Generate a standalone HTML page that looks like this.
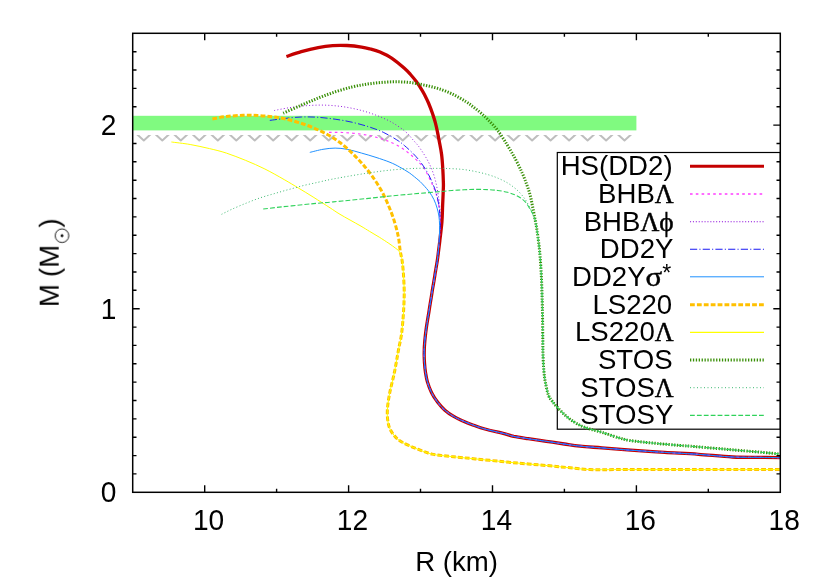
<!DOCTYPE html>
<html><head><meta charset="utf-8"><title>M-R</title>
<style>html,body{margin:0;padding:0;background:#fff;}svg{display:block;}text{font-family:"Liberation Sans",sans-serif;fill:#000;}.sy{font-family:"Liberation Serif",serif;}</style></head><body>
<svg width="830" height="581" viewBox="0 0 830 581">
<rect x="0" y="0" width="830" height="581" fill="#fff"/>
<defs><clipPath id="cp"><rect x="132.7" y="33.3" width="647.6" height="459.0"/></clipPath></defs>
<rect x="132.7" y="115.8" width="503.7" height="14.6" fill="#80fa80"/>
<defs><clipPath id="cv"><rect x="133.5" y="134.9" width="502.9" height="8"/></clipPath></defs>
<path d="M117.5 133.4L125.3 140.4L133.1 133.4M136.0 133.4L143.8 140.4L151.6 133.4M154.5 133.4L162.3 140.4L170.1 133.4M173.0 133.4L180.8 140.4L188.6 133.4M191.5 133.4L199.3 140.4L207.1 133.4M210.0 133.4L217.8 140.4L225.6 133.4M228.5 133.4L236.3 140.4L244.1 133.4M246.9 133.4L254.7 140.4L262.5 133.4M265.4 133.4L273.2 140.4L281.0 133.4M283.9 133.4L291.7 140.4L299.5 133.4M302.4 133.4L310.2 140.4L318.0 133.4M320.9 133.4L328.7 140.4L336.5 133.4M339.4 133.4L347.2 140.4L355.0 133.4M357.9 133.4L365.7 140.4L373.5 133.4M376.4 133.4L384.2 140.4L392.0 133.4M394.9 133.4L402.7 140.4L410.5 133.4M413.4 133.4L421.2 140.4L429.0 133.4M431.8 133.4L439.6 140.4L447.4 133.4M450.3 133.4L458.1 140.4L465.9 133.4M468.8 133.4L476.6 140.4L484.4 133.4M487.3 133.4L495.1 140.4L502.9 133.4M505.8 133.4L513.6 140.4L521.4 133.4M524.3 133.4L532.1 140.4L539.9 133.4M542.8 133.4L550.6 140.4L558.4 133.4M561.3 133.4L569.1 140.4L576.9 133.4M579.8 133.4L587.6 140.4L595.4 133.4M598.3 133.4L606.1 140.4L613.9 133.4M616.7 133.4L624.5 140.4L632.3 133.4" fill="none" stroke="#bebebe" stroke-width="2.0" stroke-linejoin="round" clip-path="url(#cv)"/>
<rect x="557.3" y="152.5" width="223.0" height="276.7" fill="none" stroke="#000" stroke-width="1.2"/>
<g clip-path="url(#cp)" fill="none" stroke-linejoin="round">
<path d="M286.4 56.5C288.9 55.7 296.0 53.2 301.3 51.7C306.6 50.2 313.0 48.6 318.2 47.6C323.4 46.6 327.9 46.0 332.7 45.6C337.5 45.2 342.3 45.2 347.1 45.5C351.9 45.8 357.7 46.5 361.6 47.1C365.5 47.7 367.3 48.2 370.4 49.0C373.5 49.8 376.4 50.5 380.0 52.1C383.6 53.7 388.0 55.7 392.0 58.4C396.0 61.1 401.0 65.4 404.1 68.1C407.2 70.8 408.5 72.3 410.5 74.5C412.5 76.7 414.2 78.8 416.1 81.3C418.0 83.8 420.4 87.5 421.8 89.8C423.2 92.1 423.6 92.8 424.7 95.0C425.8 97.2 427.2 99.9 428.5 103.0C429.8 106.1 431.4 110.3 432.5 113.6C433.6 116.9 434.6 119.7 435.4 122.8C436.2 125.9 436.9 129.0 437.5 132.1C438.1 135.2 438.6 137.8 439.3 141.5C440.0 145.2 441.0 149.9 441.6 154.5C442.2 159.1 442.5 164.1 442.8 168.9C443.1 173.7 443.3 179.6 443.4 183.4C443.5 187.2 443.3 188.2 443.2 192.0C443.1 195.8 442.8 201.0 442.6 206.0C442.4 211.0 442.4 216.2 441.9 222.0C441.4 227.8 440.4 235.8 439.8 241.0C439.2 246.2 438.7 249.6 438.3 253.0C437.9 256.4 437.7 258.1 437.2 261.2C436.7 264.2 436.1 267.7 435.5 271.3C434.9 274.9 434.1 280.2 433.6 282.9C433.2 285.6 433.3 284.6 432.8 287.5C432.3 290.4 431.5 295.9 430.8 300.0C430.1 304.1 429.6 307.3 428.9 312.0C428.1 316.7 427.0 323.2 426.3 328.0C425.6 332.8 425.2 336.8 424.8 341.0C424.4 345.2 424.2 349.3 424.2 353.0C424.1 356.7 424.3 359.8 424.5 363.0C424.7 366.2 425.0 369.4 425.5 372.5C426.0 375.6 426.4 378.5 427.4 381.9C428.4 385.3 429.9 389.3 431.6 392.7C433.3 396.1 435.5 399.4 437.7 402.3C439.9 405.2 442.3 407.9 444.9 410.2C447.5 412.5 450.5 414.5 453.3 416.2C456.1 417.9 458.3 418.9 461.7 420.4C465.1 421.9 469.6 423.8 473.5 425.2C477.4 426.6 479.8 427.6 484.9 429.0C490.0 430.4 499.4 432.4 504.2 433.6C509.0 434.8 509.7 435.5 513.7 436.4C517.7 437.2 522.8 437.9 528.2 438.7C533.6 439.5 540.3 440.4 546.3 441.3C552.3 442.2 558.7 443.2 564.3 444.0C569.9 444.8 573.7 445.5 580.0 446.1C586.3 446.8 593.4 447.2 601.9 447.9C610.4 448.6 620.3 449.4 630.8 450.2C641.2 450.9 653.4 451.7 664.6 452.4C675.9 453.1 687.0 453.5 698.3 454.3C709.6 455.1 722.0 456.5 732.5 457.0C743.0 457.5 753.0 457.3 761.2 457.4C769.5 457.5 778.5 457.6 782.0 457.7" stroke="#c40000" stroke-width="3.3"/>
<path d="M329.0 132.3C331.2 132.3 337.7 132.3 342.3 132.5C346.9 132.7 351.9 133.0 356.7 133.6C361.5 134.2 366.8 135.0 371.2 136.0C375.6 137.0 380.2 138.4 383.3 139.4C386.4 140.4 387.3 140.7 390.0 141.9C392.7 143.1 396.7 145.0 399.6 146.7C402.5 148.4 404.9 150.2 407.3 152.0C409.7 153.8 412.0 155.9 414.1 157.8C416.2 159.7 418.3 161.6 419.9 163.3C421.5 165.0 422.5 166.0 423.9 168.2C425.3 170.3 427.0 173.5 428.4 176.2C429.8 178.9 431.0 181.6 432.2 184.3C433.4 187.0 434.7 189.7 435.6 192.2C436.5 194.7 436.9 196.8 437.5 199.5C438.1 202.2 438.7 205.1 439.1 208.1C439.5 211.1 439.8 214.6 440.0 217.5C440.2 220.4 440.4 222.1 440.3 225.5C440.2 228.9 439.8 233.9 439.5 238.0C439.2 242.1 438.9 246.1 438.5 250.0C438.1 253.9 437.7 257.6 437.2 261.2C436.7 264.8 436.1 267.7 435.5 271.3C434.9 274.9 434.1 280.2 433.6 282.9C433.2 285.6 433.3 284.6 432.8 287.5C432.3 290.4 431.5 295.9 430.8 300.0C430.1 304.1 429.6 307.3 428.9 312.0C428.1 316.7 427.0 323.2 426.3 328.0C425.6 332.8 425.2 336.8 424.8 341.0C424.4 345.2 424.2 349.3 424.2 353.0C424.1 356.7 424.3 359.8 424.5 363.0C424.7 366.2 425.0 369.4 425.5 372.5C426.0 375.6 426.4 378.5 427.4 381.9C428.4 385.3 429.9 389.3 431.6 392.7C433.3 396.1 435.5 399.4 437.7 402.3C439.9 405.2 442.3 407.9 444.9 410.2C447.5 412.5 450.5 414.5 453.3 416.2C456.1 417.9 458.3 418.9 461.7 420.4C465.1 421.9 469.6 423.8 473.5 425.2C477.4 426.6 479.8 427.6 484.9 429.0C490.0 430.4 499.4 432.4 504.2 433.6C509.0 434.8 509.7 435.5 513.7 436.4C517.7 437.2 522.8 437.9 528.2 438.7C533.6 439.5 540.3 440.4 546.3 441.3C552.3 442.2 558.7 443.2 564.3 444.0C569.9 444.8 573.7 445.5 580.0 446.1C586.3 446.8 593.4 447.2 601.9 447.9C610.4 448.6 620.3 449.4 630.8 450.2C641.2 450.9 653.4 451.7 664.6 452.4C675.9 453.1 687.0 453.5 698.3 454.3C709.6 455.1 722.0 456.5 732.5 457.0C743.0 457.5 753.0 457.3 761.2 457.4C769.5 457.5 778.5 457.6 782.0 457.7" stroke="#ff3cff" stroke-width="1.15" stroke-dasharray="2.6 3.2"/>
<path d="M274.3 110.5C276.8 110.0 284.0 108.5 289.3 107.7C294.6 106.9 300.5 106.1 306.1 105.7C311.7 105.3 317.4 105.0 323.0 105.1C328.6 105.2 334.3 105.6 339.9 106.3C345.5 107.0 351.1 108.0 356.7 109.3C362.3 110.6 368.0 112.2 373.6 114.3C379.2 116.3 385.3 118.8 390.5 121.6C395.7 124.4 401.1 128.1 404.9 131.2C408.7 134.3 410.8 137.4 413.1 140.0C415.4 142.6 417.0 144.1 418.9 146.7C420.8 149.3 422.9 152.5 424.7 155.4C426.5 158.3 428.1 161.1 429.5 164.1C430.9 167.1 432.3 170.5 433.4 173.7C434.5 176.9 435.4 180.3 436.1 183.4C436.8 186.5 437.3 189.5 437.8 192.2C438.3 194.9 438.6 197.3 438.9 199.5C439.2 201.7 439.4 202.6 439.6 205.2C439.8 207.8 440.1 211.6 440.2 215.0C440.3 218.4 440.4 221.7 440.3 225.5C440.2 229.3 439.8 233.9 439.5 238.0C439.2 242.1 438.9 246.1 438.5 250.0C438.1 253.9 437.7 257.6 437.2 261.2C436.7 264.8 436.1 267.7 435.5 271.3C434.9 274.9 434.1 280.2 433.6 282.9C433.2 285.6 433.3 284.6 432.8 287.5C432.3 290.4 431.5 295.9 430.8 300.0C430.1 304.1 429.6 307.3 428.9 312.0C428.1 316.7 427.0 323.2 426.3 328.0C425.6 332.8 425.2 336.8 424.8 341.0C424.4 345.2 424.2 349.3 424.2 353.0C424.1 356.7 424.3 359.8 424.5 363.0C424.7 366.2 425.0 369.4 425.5 372.5C426.0 375.6 426.4 378.5 427.4 381.9C428.4 385.3 429.9 389.3 431.6 392.7C433.3 396.1 435.5 399.4 437.7 402.3C439.9 405.2 442.3 407.9 444.9 410.2C447.5 412.5 450.5 414.5 453.3 416.2C456.1 417.9 458.3 418.9 461.7 420.4C465.1 421.9 469.6 423.8 473.5 425.2C477.4 426.6 479.8 427.6 484.9 429.0C490.0 430.4 499.4 432.4 504.2 433.6C509.0 434.8 509.7 435.5 513.7 436.4C517.7 437.2 522.8 437.9 528.2 438.7C533.6 439.5 540.3 440.4 546.3 441.3C552.3 442.2 558.7 443.2 564.3 444.0C569.9 444.8 573.7 445.5 580.0 446.1C586.3 446.8 593.4 447.2 601.9 447.9C610.4 448.6 620.3 449.4 630.8 450.2C641.2 450.9 653.4 451.7 664.6 452.4C675.9 453.1 687.0 453.5 698.3 454.3C709.6 455.1 722.0 456.5 732.5 457.0C743.0 457.5 753.0 457.3 761.2 457.4C769.5 457.5 778.5 457.6 782.0 457.7" stroke="#9010dc" stroke-width="0.95" stroke-dasharray="1.0 2.2"/>
<path d="M269.8 120.4C272.2 120.1 279.1 119.1 284.4 118.5C289.6 117.9 295.7 117.2 301.3 117.0C306.9 116.8 312.6 116.9 318.2 117.3C323.8 117.7 329.5 118.4 335.1 119.2C340.7 120.0 346.3 120.9 351.9 122.2C357.5 123.5 363.6 125.1 368.8 126.8C374.0 128.5 378.7 130.1 383.3 132.3C387.9 134.5 393.2 137.6 396.7 139.8C400.2 142.0 401.8 143.3 404.5 145.6C407.2 147.9 410.5 150.9 413.1 153.5C415.7 156.1 418.0 158.8 419.9 161.2C421.8 163.6 423.2 165.8 424.7 168.0C426.1 170.2 427.2 172.1 428.6 174.7C430.0 177.3 431.6 180.9 432.8 183.8C434.0 186.7 435.2 189.6 436.0 192.2C436.8 194.8 437.2 196.8 437.8 199.5C438.4 202.2 438.9 205.1 439.3 208.1C439.7 211.1 439.8 214.6 440.0 217.5C440.2 220.4 440.4 222.1 440.3 225.5C440.2 228.9 439.8 233.9 439.5 238.0C439.2 242.1 438.9 246.1 438.5 250.0C438.1 253.9 437.7 257.6 437.2 261.2C436.7 264.8 436.1 267.7 435.5 271.3C434.9 274.9 434.1 280.2 433.6 282.9C433.2 285.6 433.3 284.6 432.8 287.5C432.3 290.4 431.5 295.9 430.8 300.0C430.1 304.1 429.6 307.3 428.9 312.0C428.1 316.7 427.0 323.2 426.3 328.0C425.6 332.8 425.2 336.8 424.8 341.0C424.4 345.2 424.2 349.3 424.2 353.0C424.1 356.7 424.3 359.8 424.5 363.0C424.7 366.2 425.0 369.4 425.5 372.5C426.0 375.6 426.4 378.5 427.4 381.9C428.4 385.3 429.9 389.3 431.6 392.7C433.3 396.1 435.5 399.4 437.7 402.3C439.9 405.2 442.3 407.9 444.9 410.2C447.5 412.5 450.5 414.5 453.3 416.2C456.1 417.9 458.3 418.9 461.7 420.4C465.1 421.9 469.6 423.8 473.5 425.2C477.4 426.6 479.8 427.6 484.9 429.0C490.0 430.4 499.4 432.4 504.2 433.6C509.0 434.8 509.7 435.5 513.7 436.4C517.7 437.2 522.8 437.9 528.2 438.7C533.6 439.5 540.3 440.4 546.3 441.3C552.3 442.2 558.7 443.2 564.3 444.0C569.9 444.8 573.7 445.5 580.0 446.1C586.3 446.8 593.4 447.2 601.9 447.9C610.4 448.6 620.3 449.4 630.8 450.2C641.2 450.9 653.4 451.7 664.6 452.4C675.9 453.1 687.0 453.5 698.3 454.3C709.6 455.1 722.0 456.5 732.5 457.0C743.0 457.5 753.0 457.3 761.2 457.4C769.5 457.5 778.5 457.6 782.0 457.7" stroke="#1818f4" stroke-width="0.95" stroke-dasharray="7.2 2.2 1.1 2.2"/>
<path d="M309.8 152.4C312.0 151.9 318.8 150.0 323.0 149.3C327.2 148.6 331.1 148.1 335.1 148.1C339.1 148.1 342.7 148.5 347.1 149.3C351.5 150.1 356.8 151.8 361.6 153.1C366.4 154.4 371.3 155.9 376.0 157.4C380.7 158.9 386.1 160.7 390.0 162.3C393.9 163.9 396.4 165.2 399.6 167.0C402.8 168.8 406.1 170.6 409.3 172.8C412.5 175.1 416.5 178.5 418.9 180.5C421.2 182.5 421.6 183.1 423.4 185.0C425.2 186.9 427.8 189.8 429.5 192.2C431.2 194.6 432.6 196.8 433.9 199.5C435.2 202.2 436.3 205.3 437.1 208.1C437.9 210.9 438.5 213.2 438.9 216.1C439.3 219.0 439.5 222.0 439.6 225.5C439.7 229.0 439.5 232.9 439.3 237.0C439.1 241.1 438.8 246.0 438.4 250.0C438.0 254.0 437.7 257.6 437.2 261.2C436.7 264.8 436.1 267.7 435.5 271.3C434.9 274.9 434.1 280.2 433.6 282.9C433.2 285.6 433.3 284.6 432.8 287.5C432.3 290.4 431.5 295.9 430.8 300.0C430.1 304.1 429.6 307.3 428.9 312.0C428.1 316.7 427.0 323.2 426.3 328.0C425.6 332.8 425.2 336.8 424.8 341.0C424.4 345.2 424.2 349.3 424.2 353.0C424.1 356.7 424.3 359.8 424.5 363.0C424.7 366.2 425.0 369.4 425.5 372.5C426.0 375.6 426.4 378.5 427.4 381.9C428.4 385.3 429.9 389.3 431.6 392.7C433.3 396.1 435.5 399.4 437.7 402.3C439.9 405.2 442.3 407.9 444.9 410.2C447.5 412.5 450.5 414.5 453.3 416.2C456.1 417.9 458.3 418.9 461.7 420.4C465.1 421.9 469.6 423.8 473.5 425.2C477.4 426.6 479.8 427.6 484.9 429.0C490.0 430.4 499.4 432.4 504.2 433.6C509.0 434.8 509.7 435.5 513.7 436.4C517.7 437.2 522.8 437.9 528.2 438.7C533.6 439.5 540.3 440.4 546.3 441.3C552.3 442.2 558.7 443.2 564.3 444.0C569.9 444.8 573.7 445.5 580.0 446.1C586.3 446.8 593.4 447.2 601.9 447.9C610.4 448.6 620.3 449.4 630.8 450.2C641.2 450.9 653.4 451.7 664.6 452.4C675.9 453.1 687.0 453.5 698.3 454.3C709.6 455.1 722.0 456.5 732.5 457.0C743.0 457.5 753.0 457.3 761.2 457.4C769.5 457.5 778.5 457.6 782.0 457.7" stroke="#1f90ff" stroke-width="1.0"/>
<path d="M212.4 118.9C214.7 118.5 221.2 117.1 226.4 116.5C231.6 115.9 238.1 115.5 243.3 115.3C248.5 115.1 252.9 115.3 257.7 115.5C262.5 115.7 267.5 116.2 272.0 116.7C276.5 117.2 280.0 117.8 284.5 118.8C289.0 119.8 294.1 121.1 298.9 122.6C303.7 124.1 308.6 125.8 313.4 127.8C318.2 129.8 323.4 132.4 327.8 134.8C332.2 137.2 335.9 139.5 339.9 142.5C343.9 145.5 348.3 149.5 351.9 152.9C355.5 156.3 358.4 159.3 361.6 163.0C364.8 166.7 368.0 170.4 371.2 174.8C374.4 179.2 378.0 184.5 380.8 189.5C383.6 194.5 385.9 199.4 388.1 204.6C390.3 209.8 392.4 215.1 394.1 220.5C395.8 225.9 397.4 232.0 398.4 237.1C399.4 242.2 399.6 247.2 400.3 251.3C401.0 255.5 401.8 258.1 402.3 262.0C402.8 265.9 403.2 270.3 403.5 275.0C403.8 279.7 404.1 285.0 404.2 290.0C404.3 295.0 404.1 299.9 403.9 305.0C403.7 310.1 403.3 315.5 402.9 320.5C402.5 325.5 402.1 330.2 401.4 335.0C400.7 339.8 399.8 342.9 398.6 349.3C397.4 355.7 395.8 365.8 394.2 373.4C392.6 381.0 390.4 388.7 389.3 395.1C388.2 401.5 387.4 406.7 387.3 411.9C387.2 417.1 387.8 422.4 389.0 426.4C390.2 430.4 392.5 433.4 394.6 436.0C396.7 438.6 398.4 440.0 401.8 442.0C405.2 444.0 410.1 446.1 415.1 448.1C420.1 450.1 425.9 452.7 431.9 454.1C437.9 455.5 444.0 455.7 451.2 456.5C458.4 457.3 466.5 458.0 475.3 458.9C484.1 459.8 495.4 460.9 504.2 461.8C513.0 462.7 520.7 463.3 528.3 464.0C535.9 464.7 543.4 465.2 550.0 465.8C556.6 466.4 561.6 467.0 568.2 467.6C574.9 468.2 581.9 469.3 589.9 469.6C597.9 469.9 603.9 469.6 616.4 469.6C628.9 469.6 647.3 469.6 664.6 469.6C681.9 469.6 700.4 469.6 720.0 469.6C739.6 469.6 771.7 469.6 782.0 469.6" stroke="#ffc000" stroke-width="3" stroke-dasharray="4.8 2.1"/>
<path d="M171.4 142.0C174.5 142.4 183.8 143.4 190.2 144.5C196.5 145.6 203.5 147.2 209.5 148.6C215.5 150.0 220.4 151.1 226.4 153.1C232.4 155.1 239.3 157.8 245.7 160.4C252.1 163.1 258.5 165.8 264.9 169.0C271.3 172.2 278.6 176.4 284.2 179.6C289.8 182.8 293.9 185.3 298.7 188.2C303.5 191.1 307.9 193.7 313.1 197.0C318.3 200.3 325.5 204.9 330.0 207.8C334.5 210.7 335.0 211.3 340.0 214.3C345.0 217.3 355.1 222.8 360.0 225.6C364.9 228.4 366.4 229.5 369.6 231.4C372.8 233.3 376.1 235.2 379.3 237.2C382.5 239.2 386.2 241.6 388.9 243.4C391.6 245.2 393.9 246.9 395.7 248.3C397.5 249.7 398.6 250.4 399.5 251.8C400.4 253.2 400.8 254.8 401.3 256.5C401.8 258.2 401.9 258.9 402.3 262.0C402.7 265.1 403.2 270.3 403.5 275.0C403.8 279.7 404.1 285.0 404.2 290.0C404.3 295.0 404.1 299.9 403.9 305.0C403.7 310.1 403.3 315.5 402.9 320.5C402.5 325.5 402.1 330.2 401.4 335.0C400.7 339.8 399.8 342.9 398.6 349.3C397.4 355.7 395.8 365.8 394.2 373.4C392.6 381.0 390.4 388.7 389.3 395.1C388.2 401.5 387.4 406.7 387.3 411.9C387.2 417.1 387.8 422.4 389.0 426.4C390.2 430.4 392.5 433.4 394.6 436.0C396.7 438.6 398.4 440.0 401.8 442.0C405.2 444.0 410.1 446.1 415.1 448.1C420.1 450.1 425.9 452.7 431.9 454.1C437.9 455.5 444.0 455.7 451.2 456.5C458.4 457.3 466.5 458.0 475.3 458.9C484.1 459.8 495.4 460.9 504.2 461.8C513.0 462.7 520.7 463.3 528.3 464.0C535.9 464.7 543.4 465.2 550.0 465.8C556.6 466.4 561.6 467.0 568.2 467.6C574.9 468.2 581.9 469.3 589.9 469.6C597.9 469.9 603.9 469.6 616.4 469.6C628.9 469.6 647.3 469.6 664.6 469.6C681.9 469.6 700.4 469.6 720.0 469.6C739.6 469.6 771.7 469.6 782.0 469.6" stroke="#ffff00" stroke-width="1.0"/>
<path d="M283.2 113.2C286.2 111.9 295.5 107.7 301.3 105.2C307.1 102.7 312.6 100.3 318.2 98.1C323.8 95.9 329.5 93.8 335.1 91.9C340.7 90.1 346.7 88.3 351.9 87.0C357.1 85.7 361.6 85.0 366.4 84.2C371.2 83.5 376.0 82.9 380.8 82.5C385.6 82.1 390.5 81.8 395.3 81.8C400.1 81.8 405.0 82.0 409.8 82.5C414.6 83.0 419.4 84.1 424.2 85.1C429.0 86.1 433.9 87.2 438.7 88.7C443.5 90.2 448.6 92.2 453.1 94.4C457.7 96.6 462.6 99.6 466.0 101.7C469.4 103.8 471.0 105.2 473.4 107.0C475.8 108.8 478.1 110.7 480.5 112.7C482.9 114.8 484.9 116.4 487.7 119.3C490.5 122.2 494.3 126.0 497.5 130.2C500.7 134.4 504.1 139.8 507.1 144.7C510.1 149.6 513.2 154.9 515.7 159.6C518.2 164.3 520.3 168.8 522.2 173.0C524.1 177.2 525.5 181.2 526.9 185.0C528.3 188.8 529.4 192.2 530.4 196.1C531.4 200.0 532.1 204.2 532.9 208.2C533.7 212.2 534.5 216.4 535.2 220.2C535.9 224.0 536.3 225.5 537.1 231.0C537.9 236.5 539.1 245.3 539.8 253.0C540.5 260.7 541.0 269.1 541.4 277.1C541.8 285.1 542.0 294.0 542.2 301.2C542.4 308.4 542.5 314.0 542.6 320.5C542.7 327.0 542.7 334.2 542.8 340.0C542.9 345.8 542.8 350.0 543.0 355.0C543.2 360.0 543.4 365.5 543.8 370.0C544.2 374.5 544.5 377.8 545.3 382.0C546.1 386.2 547.2 391.8 548.4 395.1C549.6 398.4 551.0 399.6 552.5 401.6C554.0 403.6 555.2 405.0 557.3 407.3C559.4 409.6 562.6 412.9 565.3 415.3C568.0 417.7 570.9 420.0 573.7 421.8C576.5 423.6 579.4 425.1 582.2 426.3C585.0 427.5 587.8 428.3 590.6 429.2C593.4 430.1 596.2 430.7 599.0 431.5C601.8 432.3 603.9 433.0 607.3 434.1C610.6 435.2 615.5 436.9 619.1 437.9C622.7 438.9 624.7 439.6 628.7 440.3C632.7 441.0 637.8 441.5 643.2 442.1C648.6 442.7 655.3 443.3 661.3 443.9C667.3 444.4 673.7 444.9 679.3 445.4C684.9 445.8 687.0 445.9 695.0 446.6C703.0 447.3 716.5 448.4 727.5 449.4C738.5 450.3 752.1 451.5 761.2 452.3C770.3 453.1 778.5 453.9 782.0 454.2" stroke="#3a9008" stroke-width="3" stroke-dasharray="1.3 1.5"/>
<path d="M221.6 214.3C223.3 213.5 227.6 211.2 231.7 209.3C235.8 207.5 241.3 205.1 246.1 203.2C250.9 201.3 255.8 199.3 260.6 197.7C265.4 196.1 270.3 194.8 275.1 193.4C279.9 192.0 284.7 190.6 289.5 189.3C294.3 188.0 299.2 186.6 304.0 185.4C308.8 184.2 314.1 183.2 318.4 182.2C322.7 181.2 326.0 180.4 330.0 179.6C334.0 178.8 336.2 178.4 342.3 177.3C348.4 176.2 358.4 174.5 366.4 173.3C374.4 172.1 382.5 170.9 390.5 170.1C398.5 169.3 406.4 168.7 414.6 168.4C422.9 168.1 433.8 168.4 440.0 168.4C446.2 168.4 448.0 168.5 452.0 168.7C456.0 168.9 460.1 169.1 464.1 169.6C468.1 170.1 472.1 170.8 476.1 171.7C480.1 172.5 484.6 173.6 488.2 174.7C491.8 175.8 494.6 176.7 497.8 178.1C501.0 179.5 504.7 181.2 507.5 182.9C510.3 184.6 512.5 186.2 514.7 188.0C516.9 189.8 518.9 191.7 520.7 193.7C522.5 195.7 524.2 197.9 525.5 199.8C526.8 201.7 527.6 203.4 528.6 205.2C529.6 207.0 530.1 208.1 531.2 210.6C532.3 213.1 534.2 216.8 535.2 220.2C536.2 223.6 536.3 225.5 537.1 231.0C537.9 236.5 539.1 245.3 539.8 253.0C540.5 260.7 541.0 269.1 541.4 277.1C541.8 285.1 542.0 294.0 542.2 301.2C542.4 308.4 542.5 314.0 542.6 320.5C542.7 327.0 542.7 334.2 542.8 340.0C542.9 345.8 542.8 350.0 543.0 355.0C543.2 360.0 543.4 365.5 543.8 370.0C544.2 374.5 544.5 377.8 545.3 382.0C546.1 386.2 547.2 391.8 548.4 395.1C549.6 398.4 551.0 399.6 552.5 401.6C554.0 403.6 555.2 405.0 557.3 407.3C559.4 409.6 562.6 412.9 565.3 415.3C568.0 417.7 570.9 420.0 573.7 421.8C576.5 423.6 579.4 425.1 582.2 426.3C585.0 427.5 587.8 428.3 590.6 429.2C593.4 430.1 596.2 430.7 599.0 431.5C601.8 432.3 603.9 433.0 607.3 434.1C610.6 435.2 615.5 436.9 619.1 437.9C622.7 438.9 624.7 439.6 628.7 440.3C632.7 441.0 637.8 441.5 643.2 442.1C648.6 442.7 655.3 443.3 661.3 443.9C667.3 444.4 673.7 444.9 679.3 445.4C684.9 445.8 687.0 445.9 695.0 446.6C703.0 447.3 716.5 448.4 727.5 449.4C738.5 450.3 752.1 451.5 761.2 452.3C770.3 453.1 778.5 453.9 782.0 454.2" stroke="#3cb870" stroke-width="1" stroke-dasharray="1 2.3"/>
<path d="M263.2 209.0C266.4 208.6 275.5 207.5 282.3 206.8C289.1 206.1 298.0 205.2 304.0 204.6C310.0 204.0 313.9 203.6 318.2 203.2C322.5 202.8 326.0 202.6 330.0 202.2C334.0 201.8 336.2 201.6 342.3 201.0C348.4 200.4 358.4 199.4 366.4 198.6C374.4 197.8 382.5 196.8 390.5 196.0C398.5 195.2 408.2 194.4 414.6 193.8C421.0 193.2 424.4 193.0 428.6 192.6C432.8 192.2 436.1 191.9 440.0 191.6C443.9 191.2 448.0 190.8 452.0 190.5C456.0 190.2 460.1 190.0 464.1 189.8C468.1 189.6 472.1 189.4 476.1 189.4C480.1 189.4 484.6 189.4 488.2 189.6C491.8 189.8 494.6 190.1 497.8 190.5C501.0 190.9 504.7 191.6 507.5 192.3C510.3 193.0 512.5 193.8 514.7 194.7C516.9 195.6 518.9 196.8 520.7 198.0C522.5 199.2 524.1 200.6 525.5 202.2C526.9 203.8 528.2 206.0 529.2 207.6C530.2 209.2 530.8 209.9 531.8 212.0C532.8 214.1 534.3 217.0 535.2 220.2C536.1 223.4 536.3 225.5 537.1 231.0C537.9 236.5 539.1 245.3 539.8 253.0C540.5 260.7 541.0 269.1 541.4 277.1C541.8 285.1 542.0 294.0 542.2 301.2C542.4 308.4 542.5 314.0 542.6 320.5C542.7 327.0 542.7 334.2 542.8 340.0C542.9 345.8 542.8 350.0 543.0 355.0C543.2 360.0 543.4 365.5 543.8 370.0C544.2 374.5 544.5 377.8 545.3 382.0C546.1 386.2 547.2 391.8 548.4 395.1C549.6 398.4 551.0 399.6 552.5 401.6C554.0 403.6 555.2 405.0 557.3 407.3C559.4 409.6 562.6 412.9 565.3 415.3C568.0 417.7 570.9 420.0 573.7 421.8C576.5 423.6 579.4 425.1 582.2 426.3C585.0 427.5 587.8 428.3 590.6 429.2C593.4 430.1 596.2 430.7 599.0 431.5C601.8 432.3 603.9 433.0 607.3 434.1C610.6 435.2 615.5 436.9 619.1 437.9C622.7 438.9 624.7 439.6 628.7 440.3C632.7 441.0 637.8 441.5 643.2 442.1C648.6 442.7 655.3 443.3 661.3 443.9C667.3 444.4 673.7 444.9 679.3 445.4C684.9 445.8 687.0 445.9 695.0 446.6C703.0 447.3 716.5 448.4 727.5 449.4C738.5 450.3 752.1 451.5 761.2 452.3C770.3 453.1 778.5 453.9 782.0 454.2" stroke="#2fd25a" stroke-width="1.1" stroke-dasharray="4.8 2.1"/>
</g>
<g fill="none">
<path d="M690.0 166.3H764.0" stroke="#c40000" stroke-width="3"/>
<path d="M690.0 194.0H764.0" stroke="#ff3cff" stroke-width="1.3" stroke-dasharray="2.6 3.2"/>
<path d="M690.0 221.7H764.0" stroke="#9010dc" stroke-width="1.05" stroke-dasharray="1.1 1.8"/>
<path d="M690.0 249.3H764.0" stroke="#1818f4" stroke-width="1.05" stroke-dasharray="7.2 2.2 1.1 2.2"/>
<path d="M690.0 276.8H764.0" stroke="#1f90ff" stroke-width="1.0"/>
<path d="M690.0 304.7H764.0" stroke="#ffc000" stroke-width="3" stroke-dasharray="4.8 2.1"/>
<path d="M690.0 332.4H764.0" stroke="#ffff00" stroke-width="1.15"/>
<path d="M690.0 360.1H764.0" stroke="#3a9008" stroke-width="3" stroke-dasharray="1.3 1.6"/>
<path d="M690.0 387.7H764.0" stroke="#3cb870" stroke-width="1" stroke-dasharray="1 2.5"/>
<path d="M690.0 415.4H764.0" stroke="#2fd25a" stroke-width="1.2" stroke-dasharray="4.8 2.1"/>
</g>
<g opacity="0.999">
<text x="672.6" y="175.2" font-size="27.6" text-anchor="end">HS(DD2)</text>
<text x="654.8" y="202.9" font-size="27.6" text-anchor="end">BHB</text>
<text class="sy" transform="translate(654.8 202.9) scale(0.946 1)" font-size="27.6" stroke="#000" stroke-width="0.45">&#923;</text>
<text x="640.4" y="230.6" font-size="27.6" text-anchor="end">BHB</text>
<text class="sy" transform="translate(659.3 230.6) scale(0.990 1)" font-size="27.6" stroke="#000" stroke-width="0.45">&#981;</text>
<text class="sy" transform="translate(640.4 230.6) scale(0.946 1)" font-size="27.6" stroke="#000" stroke-width="0.45">&#923;</text>
<text x="673.4" y="258.2" font-size="27.6" text-anchor="end">DD2Y</text>
<text x="645.6" y="285.9" font-size="27.6" text-anchor="end">DD2Y</text>
<text x="662.3" y="280.7" font-size="23.2">*</text>
<text class="sy" transform="translate(645.6 285.9) scale(1.119 1)" font-size="27.6" stroke="#000" stroke-width="0.45">&#963;</text>
<text x="672.2" y="313.6" font-size="27.6" text-anchor="end">LS220</text>
<text x="654.8" y="341.3" font-size="27.6" text-anchor="end">LS220</text>
<text class="sy" transform="translate(654.8 341.3) scale(0.946 1)" font-size="27.6" stroke="#000" stroke-width="0.45">&#923;</text>
<text x="672.6" y="369.0" font-size="27.6" text-anchor="end">STOS</text>
<text x="654.8" y="396.6" font-size="27.6" text-anchor="end">STOS</text>
<text class="sy" transform="translate(654.8 396.6) scale(0.946 1)" font-size="27.6" stroke="#000" stroke-width="0.45">&#923;</text>
<text x="673.4" y="424.3" font-size="27.6" text-anchor="end">STOSY</text>
<g stroke="#000" fill="none" stroke-width="1.5" stroke-linecap="butt">
<rect x="132.7" y="33.3" width="647.6" height="459.0"/>
<path d="M204.7 492.3v-7.0M204.7 33.3v7.0M276.6 492.3v-3.5M276.6 33.3v3.5M348.6 492.3v-7.0M348.6 33.3v7.0M420.5 492.3v-3.5M420.5 33.3v3.5M492.5 492.3v-7.0M492.5 33.3v7.0M564.4 492.3v-3.5M564.4 33.3v3.5M636.4 492.3v-7.0M636.4 33.3v7.0M708.3 492.3v-3.5M708.3 33.3v3.5M132.7 473.9h3.8M780.3 473.9h-3.8M132.7 455.6h3.8M780.3 455.6h-3.8M132.7 437.2h3.8M780.3 437.2h-3.8M132.7 418.9h3.8M780.3 418.9h-3.8M132.7 400.5h3.8M780.3 400.5h-3.8M132.7 382.1h3.8M780.3 382.1h-3.8M132.7 363.8h3.8M780.3 363.8h-3.8M132.7 345.4h3.8M780.3 345.4h-3.8M132.7 327.1h3.8M780.3 327.1h-3.8M132.7 308.7h7.0M780.3 308.7h-7.0M132.7 290.3h3.8M780.3 290.3h-3.8M132.7 272.0h3.8M780.3 272.0h-3.8M132.7 253.6h3.8M780.3 253.6h-3.8M132.7 235.3h3.8M780.3 235.3h-3.8M132.7 216.9h3.8M780.3 216.9h-3.8M132.7 198.5h3.8M780.3 198.5h-3.8M132.7 180.2h3.8M780.3 180.2h-3.8M132.7 161.8h3.8M780.3 161.8h-3.8M132.7 143.5h3.8M780.3 143.5h-3.8M780.3 125.1h-7.0M132.7 106.7h3.8M780.3 106.7h-3.8M132.7 88.4h3.8M780.3 88.4h-3.8M132.7 70.0h3.8M780.3 70.0h-3.8M132.7 51.7h3.8M780.3 51.7h-3.8" stroke-width="1.4"/>
</g>
<text transform="translate(208.6 529.9) scale(1.02 1.08)" font-size="27.6" text-anchor="middle">10</text>
<text transform="translate(352.5 529.9) scale(1.02 1.08)" font-size="27.6" text-anchor="middle">12</text>
<text transform="translate(496.4 529.9) scale(1.02 1.08)" font-size="27.6" text-anchor="middle">14</text>
<text transform="translate(640.3 529.9) scale(1.02 1.08)" font-size="27.6" text-anchor="middle">16</text>
<text transform="translate(784.2 529.9) scale(1.02 1.08)" font-size="27.6" text-anchor="middle">18</text>
<text transform="translate(116.5 502.2) scale(1.02 1.08)" font-size="27.6" text-anchor="end">0</text>
<text transform="translate(116.5 318.6) scale(1.02 1.08)" font-size="27.6" text-anchor="end">1</text>
<text transform="translate(116.5 135.0) scale(1.02 1.08)" font-size="27.6" text-anchor="end">2</text>
<text x="456.6" y="570.5" font-size="27.6" text-anchor="middle">R (km)</text>
<g transform="translate(58.7 305.8) rotate(-90)">
<text x="-1.3" y="0" font-size="27.6">M</text>
<text x="28.86" y="0" font-size="27.6">(M</text>
<circle cx="70.1" cy="3.3" r="6.8" fill="none" stroke="#000" stroke-width="0.9"/>
<circle cx="70.1" cy="3.3" r="1.4" fill="#000"/>
<text x="78.2" y="0" font-size="27.6">)</text>
</g>
</g>
</svg></body></html>
